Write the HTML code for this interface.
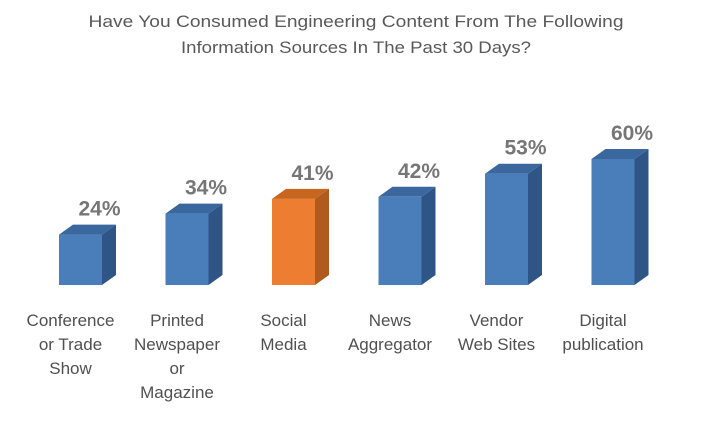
<!DOCTYPE html>
<html><head><meta charset="utf-8"><style>
body{margin:0;background:#fff;}
svg{display:block;font-family:"Liberation Sans",sans-serif;}
</style></head><body>
<svg id="chart" width="711" height="425" viewBox="0 0 711 425">
<g fill="#595959" font-size="17" text-anchor="middle">
<text x="356" y="27" textLength="535" lengthAdjust="spacingAndGlyphs">Have You Consumed Engineering Content From The Following</text>
<text x="356" y="53" textLength="350" lengthAdjust="spacingAndGlyphs">Information Sources In The Past 30 Days?</text>
</g>
<g id="bars"></g>
</svg>
<script>
const categories = [["Conference","or Trade","Show"],["Printed","Newspaper","or","Magazine"],["Social","Media"],["News","Aggregator"],["Vendor","Web Sites"],["Digital","publication"]];
const values = [24,34,41,42,53,60];
const valueLabels = ["24%","34%","41%","42%","53%","60%"];
const highlight = [false,false,true,false,false,false];

const ns="http://www.w3.org/2000/svg";
const g=document.getElementById('bars');
const baseY=285, pxPer=2.1, x0=59, step=106.5, bw=43, dx=14, dy=10;
function xScale(i){return x0+i*step;}
function yScale(v){return baseY-v*pxPer;}
function mk(tag,attrs){const e=document.createElementNS(ns,tag);for(const k in attrs)e.setAttribute(k,attrs[k]);g.appendChild(e);return e;}
values.forEach((v,i)=>{
  const x=xScale(i), y=yScale(v);
  const c=highlight[i]?["#ED7D31","#B05A1E","#C8651F"]:["#4A7EBB","#2F5486","#3A679E"];
  const front=mk('rect',{x:x,y:y,width:bw,height:baseY-y,fill:c[0]});
  
  
  const side=mk('polygon',{points:`${x+bw},${y} ${x+bw+dx},${y-dy} ${x+bw+dx},${baseY-dy} ${x+bw},${baseY}`,fill:c[1]});
  
  
  const top=mk('polygon',{points:`${x},${y} ${x+dx},${y-dy} ${x+bw+dx},${y-dy} ${x+bw},${y}`,fill:c[2]});
  
  
  const t=mk('text',{x:x+bw/2+19,y:y-19,'font-size':21,'font-weight':'bold',fill:'#767676','text-anchor':'middle'});
  t.textContent=valueLabels[i];
  
  
  const lab=mk('text',{x:x+bw/2-10,y:0,'font-size':17,fill:'#505050','text-anchor':'middle'});
  
  
  categories[i].forEach((line,j)=>{
    const ts=document.createElementNS(ns,'tspan');
    ts.setAttribute('x',x+bw/2-10);ts.setAttribute('y',326+j*24);
    ts.textContent=line;lab.appendChild(ts);
  });
});
</script>
</body></html>
